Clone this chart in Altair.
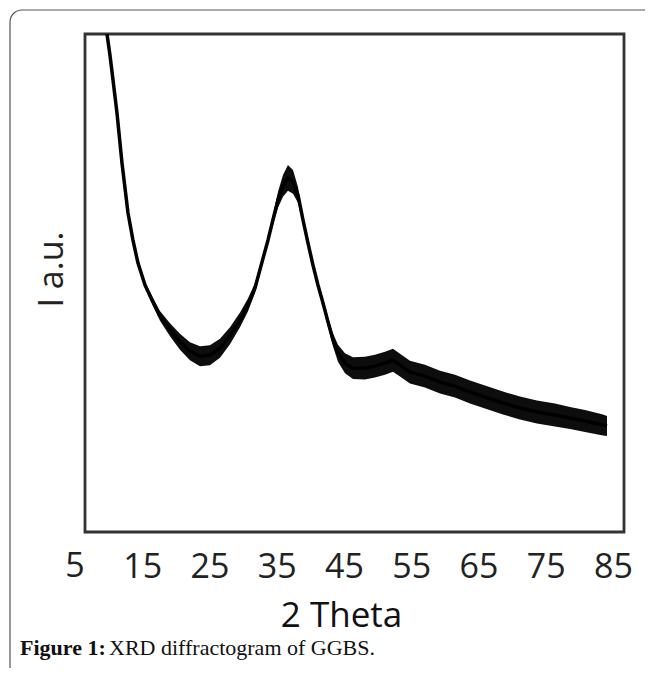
import altair as alt
import pandas as pd

# ---- data ----
two_theta = [9.31, 9.76, 10.20, 10.65, 11.25, 11.99, 12.88, 13.62, 14.37, 15.41,
             16.60, 17.64, 19.13, 20.61, 22.10, 23.59, 25.07, 26.56, 28.05, 29.54,
             30.72, 31.77, 32.81, 33.70, 34.44, 35.19, 35.93, 36.67, 37.42, 38.16,
             38.90, 39.65, 40.39, 41.13, 41.88, 42.62, 43.36, 44.11, 45.15, 46.34,
             48.12, 49.61, 51.10, 52.29, 53.33, 54.81, 57.04, 59.28, 61.51, 63.74,
             65.97, 68.64, 71.17, 73.70, 76.38, 78.61, 80.84, 83.51, 84.11]
intensity = [104.8, 100.0, 95.8, 90.8, 84.1, 74.1, 64.1, 58.6, 54.0, 49.6,
             46.2, 43.4, 40.6, 38.2, 36.3, 35.3, 35.5, 36.9, 39.4, 42.6,
             45.6, 49.0, 54.2, 58.6, 62.7, 66.7, 69.5, 71.1, 70.3, 67.7,
             62.7, 58.0, 53.6, 49.6, 46.0, 42.2, 38.6, 35.9, 33.9, 32.9,
             32.9, 33.3, 33.9, 34.5, 33.5, 32.1, 31.3, 30.1, 29.3, 28.1,
             27.1, 25.9, 24.9, 24.1, 23.5, 22.9, 22.3, 21.5, 21.3]
noise = [0, 0, 0, 0, 0, 0, 0.2, 0.3, 0.4, 0.6,
         0.8, 1.0, 1.3, 1.6, 1.8, 2.0, 2.0, 1.9, 1.7, 1.5,
         1.3, 1.0, 0.8, 0.8, 1.0, 1.6, 2.2, 2.6, 2.4, 1.6,
         0.8, 0.6, 0.6, 0.7, 0.8, 1.0, 1.3, 1.7, 2.0, 2.2,
         2.3, 2.3, 2.3, 2.3, 2.3, 2.3, 2.3, 2.3, 2.3, 2.3,
         2.3, 2.3, 2.3, 2.3, 2.3, 2.2, 2.2, 2.1, 2.0]
tick_values = [5, 15, 25, 35, 45, 55, 65, 75, 85]

x_title = "2 Theta"
y_title = "I a.u."
caption_bold = "Figure 1:"
caption_text = "XRD diffractogram of GGBS."

df = pd.DataFrame({"t": two_theta, "i": intensity, "n": noise})
df["lo"] = df["i"] - df["n"]
df["hi"] = df["i"] + df["n"]

W, H = 539, 498
X_DOMAIN = [6.49, 86.64]
Y_DOMAIN = [0, 100]
LABEL_FONT = "Open Sans"
LABEL_SIZE = 34
LABEL_PAD = 18

xs = alt.Scale(domain=X_DOMAIN, nice=False, zero=False)
ys = alt.Scale(domain=Y_DOMAIN, nice=False, zero=False)

x_axis = alt.Axis(values=tick_values, title=x_title, labelFontSize=LABEL_SIZE,
                  labelFont=LABEL_FONT, labelColor="#222", labelPadding=LABEL_PAD,
                  labelFlush=False, labelOverlap=False, labelBound=False,
                  ticks=False, domain=False, grid=False,
                  titleFont=LABEL_FONT, titleFontSize=35, titleFontWeight="normal",
                  titleColor="#111", titleY=66, titleX=256)
y_axis = alt.Axis(title=y_title, labels=False, ticks=False, domain=False, grid=False,
                  titleFont=LABEL_FONT, titleFontSize=34, titleFontWeight="normal",
                  titleColor="#222", titleX=-16, titleY=235)

base = alt.Chart(df)

band = base.mark_area(color="#000", clip=True, opacity=0.95).encode(
    x=alt.X("t:Q", scale=xs, axis=x_axis),
    y=alt.Y("lo:Q", scale=ys, axis=y_axis),
    y2="hi:Q",
)
line = base.mark_line(color="#000", strokeWidth=3.5, clip=True,
                      strokeJoin="round").encode(
    x=alt.X("t:Q", scale=xs, axis=x_axis),
    y=alt.Y("i:Q", scale=ys, axis=y_axis),
)

# first tick label (5) lies just left of the plot frame, so the scale's axis
# cannot show it; place it through the same x scale
first_df = pd.DataFrame({"v": [tick_values[0]]})
first_label = alt.Chart(first_df).mark_text(
    font=LABEL_FONT, fontSize=LABEL_SIZE, color="#222", baseline="top",
    align="center").encode(
    x=alt.X("v:Q", scale=xs),
    y=alt.value(H + LABEL_PAD),
    text=alt.Text("v:Q", format="d"),
)

frame_df = pd.DataFrame({"a": [0]})
outer = alt.Chart(frame_df).mark_rect(fill=None, stroke="#555", strokeWidth=1.2,
                                      cornerRadius=12).encode(
    x=alt.value(-75), x2=alt.value(610),
    y=alt.value(-24), y2=alt.value(700),
)
cap1 = alt.Chart(frame_df).mark_text(text=caption_bold, font="Liberation Serif",
                                     fontSize=22, fontWeight="bold", align="left",
                                     baseline="alphabetic", color="#111").encode(
    x=alt.value(-65), y=alt.value(621))
cap2 = alt.Chart(frame_df).mark_text(text=caption_text, font="Liberation Serif",
                                     fontSize=22, align="left",
                                     baseline="alphabetic", color="#111").encode(
    x=alt.value(24), y=alt.value(621))

chart = alt.layer(band, line, first_label, outer, cap1, cap2).properties(
    width=W, height=H,
    background="white",
    autosize=alt.AutoSizeParams(type="none"),
    padding={"left": 77, "top": 26, "right": 21, "bottom": 136},
).configure_view(stroke="#333", strokeWidth=2.8).configure_axis(
    domain=False, ticks=False, grid=False
)

chart.save("out.html", embed_options={"renderer": "svg", "actions": False})
